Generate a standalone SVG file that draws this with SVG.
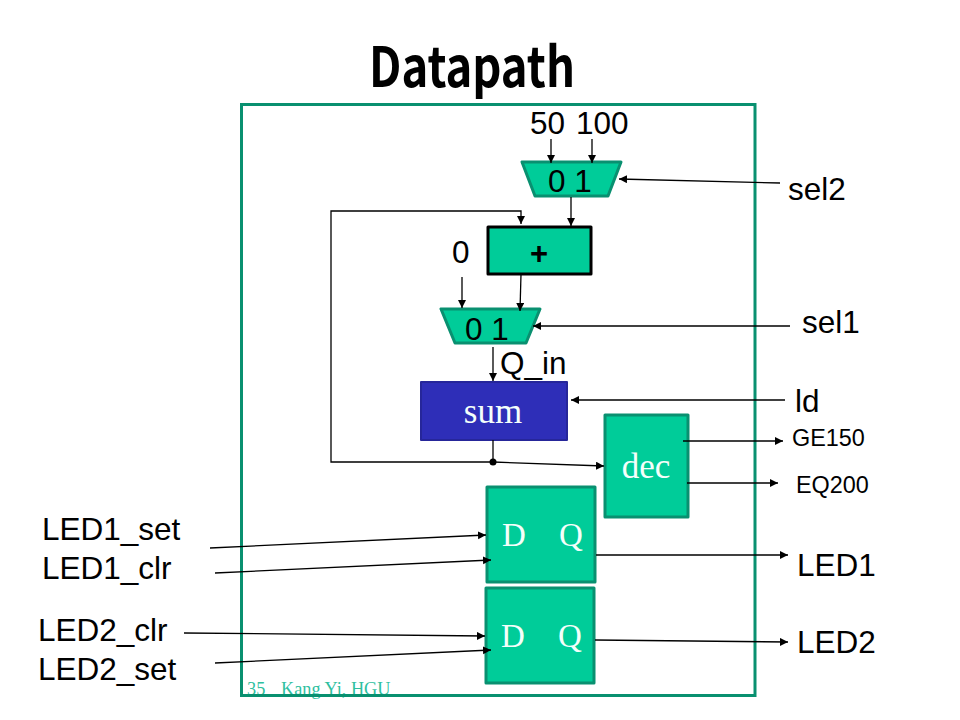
<svg xmlns="http://www.w3.org/2000/svg" width="960" height="720" viewBox="0 0 960 720">
<style>
text{font-family:"Liberation Sans",Arial,sans-serif;fill:#000}
.l{font-size:31.500px}
.m{font-size:23.400px}
.s{font-family:"Liberation Serif","Times New Roman",serif;fill:#f4fffb;font-size:35px}
.d{font-size:33px}
.f{font-family:"Liberation Serif","Times New Roman",serif;fill:#2fbf9f;font-size:18.300px}
.b{fill:#00cc99;stroke:#099070;stroke-width:3;stroke-linejoin:round}
.w{fill:none;stroke:#000;stroke-width:1.3}
</style>
<defs><marker id="a" markerUnits="userSpaceOnUse" markerWidth="9" markerHeight="9" refX="8" refY="4" orient="auto"><path d="M0 0L8 4L0 8Z" fill="#000"/></marker></defs>
<rect width="960" height="720" fill="#fff"/>
<text id="title" x="369" y="87" textLength="206" lengthAdjust="spacingAndGlyphs" style="font-family:'Noto Sans CJK KR','Noto Sans',sans-serif;font-weight:700;font-size:55px">Datapath</text>
<g id="footer"><text class="f" x="247" y="695">35</text><text class="f" x="281" y="695">Kang Yi, HGU</text></g>
<rect id="frame" x="241.500" y="104.500" width="513.500" height="591" fill="none" stroke="#099070" stroke-width="3"/>
<g id="mux2"><path class="b" d="M522 162H621L608 196H535Z"/><text class="l" x="548" y="192">0 1</text></g>
<g id="adder"><rect x="488" y="227" width="103" height="47" fill="#00cc99" stroke="#000" stroke-width="3" stroke-linejoin="round"/><text x="539" y="264" text-anchor="middle" style="font-size:31px;font-weight:700">+</text></g>
<g id="mux1"><path class="b" d="M441 309H540L526 343H455Z"/><text class="l" x="465" y="340">0 1</text></g>
<g id="sum"><rect x="421" y="382" width="146" height="58" fill="#2e2eb8" stroke="#26269a" stroke-width="2" stroke-linejoin="round"/><text class="s" x="493" y="423" text-anchor="middle">sum</text></g>
<g id="dec"><rect class="b" x="605" y="415" width="83" height="102"/><text class="s" x="646" y="478" text-anchor="middle">dec</text></g>
<g id="ff1"><rect class="b" x="487" y="487" width="108" height="95"/><text class="s d" x="502" y="546">D</text><text class="s d" x="559" y="546">Q</text></g>
<g id="ff2"><rect class="b" x="486" y="588" width="108" height="95"/><text class="s d" x="501" y="647">D</text><text class="s d" x="558" y="647">Q</text></g>
<g id="connectors">
<path class="w" marker-end="url(#a)" d="M551 139V163"/>
<path class="w" marker-end="url(#a)" d="M592 139V163"/>
<path class="w" marker-end="url(#a)" d="M780 183L619 179"/>
<path class="w" marker-end="url(#a)" d="M571 197V226"/>
<path class="w" marker-end="url(#a)" d="M493 462H331V211H521V224"/>
<path class="w" marker-end="url(#a)" d="M462 277V308"/>
<path class="w" marker-end="url(#a)" d="M521 274L520 311"/>
<path class="w" marker-end="url(#a)" d="M790 326L533 326"/>
<path class="w" marker-end="url(#a)" d="M493 347V381"/>
<path class="w" marker-end="url(#a)" d="M785 400H571"/>
<path class="w" d="M493 440V462"/>
<circle cx="493" cy="462" r="3.500" fill="#000"/>
<path class="w" marker-end="url(#a)" d="M493 462L604 466"/>
<path class="w" marker-end="url(#a)" d="M683 441H783"/>
<path class="w" marker-end="url(#a)" d="M687 483H778"/>
<path class="w" marker-end="url(#a)" d="M210 548L486 535"/>
<path class="w" marker-end="url(#a)" d="M215 573L491 560"/>
<path class="w" marker-end="url(#a)" d="M184 633L485 636"/>
<path class="w" marker-end="url(#a)" d="M215 663L491 650"/>
<path class="w" marker-end="url(#a)" d="M596 555H788"/>
<path class="w" marker-end="url(#a)" d="M595 640L788 642"/>
</g>
<g id="labels">
<text class="l" x="530" y="134">50</text><text class="l" x="576" y="134">100</text>
<text class="l" x="788" y="200">sel2</text>
<text class="l" x="452" y="263">0</text>
<text class="l" x="802" y="333">sel1</text>
<text class="l" x="500" y="374">Q_in</text>
<text class="l" x="795" y="412">ld</text>
<text class="m" x="792" y="446">GE150</text>
<text class="m" x="796" y="493">EQ200</text>
<text class="l" x="42" y="540">LED1_set</text>
<text class="l" x="42" y="579">LED1_clr</text>
<text class="l" x="38" y="641">LED2_clr</text>
<text class="l" x="38" y="680">LED2_set</text>
<text class="l" x="797" y="576">LED1</text>
<text class="l" x="797" y="653">LED2</text>
</g>
</svg>
